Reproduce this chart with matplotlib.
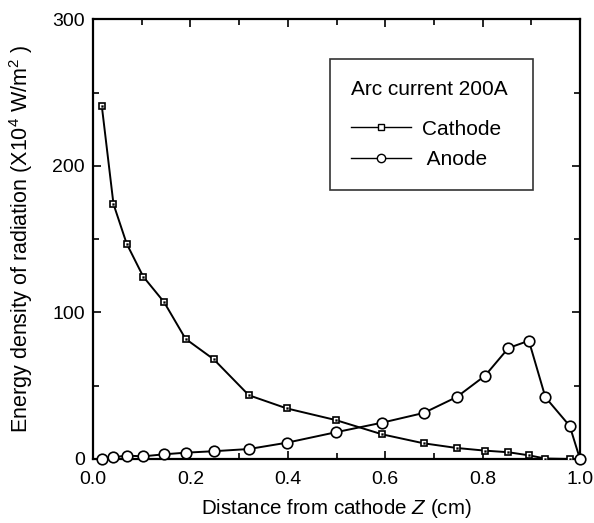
import matplotlib.pyplot as plt
from matplotlib.ticker import MultipleLocator
from matplotlib.lines import Line2D

# data
z = [0.018, 0.042, 0.069, 0.103, 0.146, 0.19, 0.248, 0.32, 0.398, 0.498,
     0.594, 0.679, 0.747, 0.805, 0.853, 0.895, 0.929, 0.979]
cathode = [241, 174, 147, 124.5, 107, 82, 68, 43.5, 34.5, 26.6,
           16.8, 10.7, 7.5, 5.7, 4.6, 2.5, 0.3, 0.0]
z_anode = z + [1.0]
anode = [0.0, 1.2, 2.3, 1.8, 3.2, 4.3, 5.3, 6.8, 11.1, 18.2,
         24.8, 31.4, 42.3, 56.8, 75.7, 80.7, 42.1, 22.5, 0.0]

plt.rcParams['font.family'] = ['Liberation Sans', 'DejaVu Sans']
plt.rcParams['mathtext.fontset'] = 'custom'
plt.rcParams['mathtext.rm'] = 'Liberation Sans'
plt.rcParams['mathtext.it'] = 'Liberation Sans:italic'

fig = plt.figure(figsize=(5.94, 5.23), dpi=100)
ax = fig.add_axes([0.1566, 0.1224, 0.8198, 0.8406])

ax.plot(z, cathode, '-', color='black', lw=1.4, marker='s', ms=5,
        mfc='white', mec='black', mew=1.2, zorder=3)
ax.plot(z, cathode, 'none', marker='s', ms=1.3, mfc='black', mec='black',
        mew=0.3, zorder=4)
ax.plot(z_anode, anode, '-', color='black', lw=1.4, marker='o', ms=7.6,
        mfc='white', mec='black', mew=1.2, zorder=3, clip_on=False)

ax.set_xlim(0, 1.0)
ax.set_ylim(0, 300)
ax.xaxis.set_major_locator(MultipleLocator(0.2))
ax.xaxis.set_minor_locator(MultipleLocator(0.1))
ax.yaxis.set_major_locator(MultipleLocator(100))
ax.yaxis.set_minor_locator(MultipleLocator(50))
ax.tick_params(which='both', direction='in', top=True, right=True,
               width=1.2, labelsize=14)
ax.tick_params(which='major', length=6)
ax.tick_params(which='minor', length=4)
ax.tick_params(axis='x', which='major', pad=9)
ax.tick_params(axis='y', which='major', pad=6)
ax.xaxis.set_major_formatter(plt.FormatStrFormatter('%.1f'))
for s in ax.spines.values():
    s.set_linewidth(1.6)

ax.set_xlabel('Distance from cathode $\\it{Z}$ (cm)', fontsize=14.8, labelpad=6)
ax.set_ylabel('Energy density of radiation (X10$^4$ W/m$^2$ )', fontsize=15.5,
              labelpad=12)

# legend box
h1 = Line2D([], [], color='black', lw=1.0, marker='s', ms=4, mfc='white',
            mec='black', mew=1.0)
h2 = Line2D([], [], color='black', lw=1.0, marker='o', ms=6, mfc='white',
            mec='black', mew=1.0)
leg = ax.legend([h1, h2], ['Cathode', ' Anode'], title='Arc current 200A ',
                loc='upper left', bbox_to_anchor=(0.487, 0.91),
                borderaxespad=0, frameon=True, fancybox=False,
                edgecolor='black', fontsize=15, title_fontsize=15,
                handlelength=2.9, borderpad=1.0, labelspacing=0.55,
                handletextpad=0.5)
leg.get_frame().set_linewidth(1.2)
leg._legend_box.align = 'left'
leg._legend_box.sep = 15

fig.savefig('out.png', dpi=100)
